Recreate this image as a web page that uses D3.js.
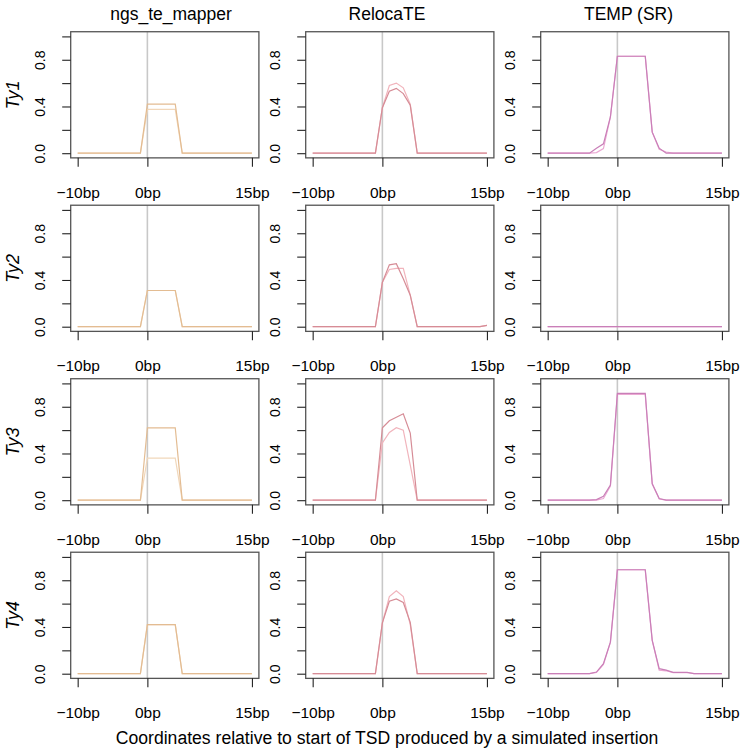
<!DOCTYPE html>
<html><head><meta charset="utf-8">
<script src="https://cdn.jsdelivr.net/npm/d3@7"></script>
<style>
html,body{margin:0;padding:0;background:#fff;}
svg text{font-family:"Liberation Sans",Arial,Helvetica,sans-serif;fill:#000;}
</style></head>
<body><svg id="chart" width="740" height="749"></svg>
<script>
// ---------- data ----------
const positions = [-10,-9,-8,-7,-6,-5,-4,-3,-2,-1,0,1,2,3,4,5,6,7,8,9,10,11,12,13,14,15];
const tools = ["ngs_te_mapper","RelocaTE","TEMP (SR)"];
const elements = ["Ty1","Ty2","Ty3","Ty4"];
const xTickValues = [-10,0,15];
const xTickLabels = ["\u221210bp","0bp","15bp"];
const yTickValues = [0,0.2,0.4,0.6,0.8,1.0];
const yTickLabels = ["0.0","","0.4","","0.8",""];
const xTitle = "Coordinates relative to start of TSD produced by a simulated insertion";

// ngs_te_mapper
const ngsTy1A = [0,0,0,0,0,0,0,0,0,0,0.42,0.42,0.42,0.42,0.42,0,0,0,0,0,0,0,0,0,0,0];
const ngsTy1B = [0,0,0,0,0,0,0,0,0,0,0.375,0.375,0.375,0.375,0.375,0,0,0,0,0,0,0,0,0,0,0];
const ngsTy2A = [0,0,0,0,0,0,0,0,0,0,0.31,0.31,0.31,0.31,0.31,0,0,0,0,0,0,0,0,0,0,0];
const ngsTy2B = [0,0,0,0,0,0,0,0,0,0,0.31,0.31,0.31,0.31,0.31,0,0,0,0,0,0,0,0,0,0,0];
const ngsTy3A = [0,0,0,0,0,0,0,0,0,0,0.62,0.62,0.62,0.62,0.62,0,0,0,0,0,0,0,0,0,0,0];
const ngsTy3B = [0,0,0,0,0,0,0,0,0,0,0.36,0.36,0.36,0.36,0.36,0,0,0,0,0,0,0,0,0,0,0];
const ngsTy4A = [0,0,0,0,0,0,0,0,0,0,0.42,0.42,0.42,0.42,0.42,0,0,0,0,0,0,0,0,0,0,0];
const ngsTy4B = [0,0,0,0,0,0,0,0,0,0,0.42,0.42,0.42,0.42,0.42,0,0,0,0,0,0,0,0,0,0,0];
// RelocaTE
const relTy1A = [0,0,0,0,0,0,0,0,0,0,0.39,0.53,0.555,0.51,0.41,0,0,0,0,0,0,0,0,0,0,0];
const relTy1B = [0,0,0,0,0,0,0,0,0,0,0.39,0.58,0.60,0.56,0.42,0,0,0,0,0,0,0,0,0,0,0];
const relTy2A = [0,0,0,0,0,0,0,0,0,0,0.38,0.53,0.54,0.41,0.27,0,0,0,0,0,0,0,0,0,0,0.012];
const relTy2B = [0,0,0,0,0,0,0,0,0,0,0.38,0.49,0.50,0.50,0.27,0,0,0,0,0,0,0,0,0,0,0.012];
const relTy3A = [0,0,0,0,0,0,0,0,0,0,0.62,0.68,0.71,0.74,0.575,0,0,0,0,0,0,0,0,0,0,0];
const relTy3B = [0,0,0,0,0,0,0,0,0,0,0.49,0.58,0.62,0.60,0.30,0,0,0,0,0,0,0,0,0,0,0];
const relTy4A = [0,0,0,0,0,0,0,0,0,0,0.435,0.62,0.64,0.61,0.44,0,0,0,0,0,0,0,0,0,0,0];
const relTy4B = [0,0,0,0,0,0,0,0,0,0,0.435,0.66,0.71,0.66,0.42,0,0,0,0,0,0,0,0,0,0,0];
// TEMP (SR)
const tmpTy1A = [0,0,0,0,0,0,0,0.043,0.08,0.31,0.83,0.83,0.83,0.83,0.83,0.18,0.043,0,0,0,0,0,0,0,0,0];
const tmpTy1B = [0,0,0,0,0,0,0,0.005,0.04,0.31,0.83,0.83,0.83,0.83,0.83,0.18,0.034,0.01,0,0,0,0,0,0,0,0];
const tmpTy2A = [0,0,0,0,0,0,0,0,0,0,0,0,0,0,0,0,0,0,0,0,0,0,0,0,0,0];
const tmpTy2B = [0,0,0,0,0,0,0,0,0,0,0,0,0,0,0,0,0,0,0,0,0,0,0,0,0,0];
const tmpTy3A = [0,0,0,0,0,0,0,0.005,0.034,0.13,0.915,0.915,0.915,0.915,0.915,0.14,0.014,0,0,0,0,0,0,0,0,0];
const tmpTy3B = [0,0,0,0,0,0,0,0,0.014,0.12,0.905,0.905,0.905,0.905,0.905,0.14,0.01,0,0,0,0,0,0,0,0,0];
const tmpTy4A = [0,0,0,0,0,0,0,0.014,0.086,0.27,0.89,0.89,0.89,0.89,0.89,0.286,0.043,0.03,0.011,0.011,0.011,0,0,0,0,0];
const tmpTy4B = [0,0,0,0,0,0,0,0.01,0.08,0.27,0.89,0.89,0.89,0.89,0.89,0.286,0.03,0.025,0.01,0.01,0.01,0,0,0,0,0];

const panelData = [
  [[ngsTy1A,ngsTy1B],[relTy1A,relTy1B],[tmpTy1A,tmpTy1B]],
  [[ngsTy2A,ngsTy2B],[relTy2A,relTy2B],[tmpTy2A,tmpTy2B]],
  [[ngsTy3A,ngsTy3B],[relTy3A,relTy3B],[tmpTy3A,tmpTy3B]],
  [[ngsTy4A,ngsTy4B],[relTy4A,relTy4B],[tmpTy4A,tmpTy4B]]
];
// colours: [dark, light] per tool
const toolColors = [["#E3BC92","#F1D7BA"],["#D68C96","#F1B4BC"],["#C97FB8","#EBA9D3"]];

// ---------- layout ----------
const svg = d3.select("#chart");
const colX0 = [70.7, 305.7, 540.7];
const boxW = 188.2;
const rowZero = [153.2, 326.7, 500.2, 673.7];
const unitH = 116.8;
const titleX = [171, 387, 628.5];

elements.forEach((el, r) => {
  tools.forEach((tool, c) => {
    const x = d3.scaleLinear().domain([-11,16]).range([colX0[c], colX0[c]+boxW]);
    const y = d3.scaleLinear().domain([-0.04,1.04]).range([rowZero[r]+0.04*unitH, rowZero[r]-1.04*unitH]);
    const g = svg.append("g");

    // zero reference line
    g.append("line")
      .attr("x1", x(0)).attr("x2", x(0))
      .attr("y1", y(1.04)).attr("y2", y(-0.04))
      .attr("stroke", "#c8c8c8").attr("stroke-width", 1.6);

    // series
    const line = d3.line().x((d,i) => x(positions[i])).y(d => y(d));
    const series = panelData[r][c];
    [1,0].forEach(k => {
      g.append("path").datum(series[k])
        .attr("d", line).attr("fill","none")
        .attr("stroke", toolColors[c][k]).attr("stroke-width", 1.2);
    });

    // box
    g.append("rect")
      .attr("x", x(-11)).attr("y", y(1.04))
      .attr("width", x(16)-x(-11)).attr("height", y(-0.04)-y(1.04))
      .attr("fill","none").attr("stroke","#555").attr("stroke-width",1.3);

    // y axis
    const yAxis = d3.axisLeft(y).tickValues(yTickValues).tickSize(8.5).tickPadding(0)
      .tickFormat((d,i) => yTickLabels[i]);
    const ya = g.append("g").attr("transform", `translate(${x(-11)},0)`).call(yAxis);
    ya.select(".domain").remove();
    ya.selectAll(".tick line").attr("stroke","#222").attr("stroke-width",1.1);
    ya.selectAll(".tick text")
      .attr("x", null).attr("dy", null)
      .attr("transform", "translate(-31,0) rotate(-90)")
      .attr("text-anchor","middle").attr("dominant-baseline","central")
      .style("font-size","14px").style("font-family",'"Liberation Sans",Arial,sans-serif');

    // x axis
    const xAxis = d3.axisBottom(x).tickValues(xTickValues).tickSize(9).tickPadding(0)
      .tickFormat((d,i) => xTickLabels[i]);
    const xa = g.append("g").attr("transform", `translate(0,${y(-0.04)})`).call(xAxis);
    xa.select(".domain").remove();
    xa.selectAll(".tick line").attr("stroke","#222").attr("stroke-width",1.1);
    xa.selectAll(".tick text")
      .attr("y", 40).attr("dy", null)
      .attr("text-anchor","middle")
      .style("font-size","15.5px").style("font-family",'"Liberation Sans",Arial,sans-serif');

    if (r === 0) {
      svg.append("text").attr("x", titleX[c]).attr("y", 20)
        .attr("text-anchor","middle").style("font-size","17.5px").text(tool);
    }
  });
  svg.append("text")
    .attr("transform", `translate(19,${rowZero[r]-0.5*unitH}) rotate(-90)`)
    .attr("text-anchor","middle").style("font-size","18px").style("font-style","italic")
    .text(el);
});

svg.append("text").attr("x", 387).attr("y", 744)
  .attr("text-anchor","middle").style("font-size","17.6px").text(xTitle);
</script></body></html>
